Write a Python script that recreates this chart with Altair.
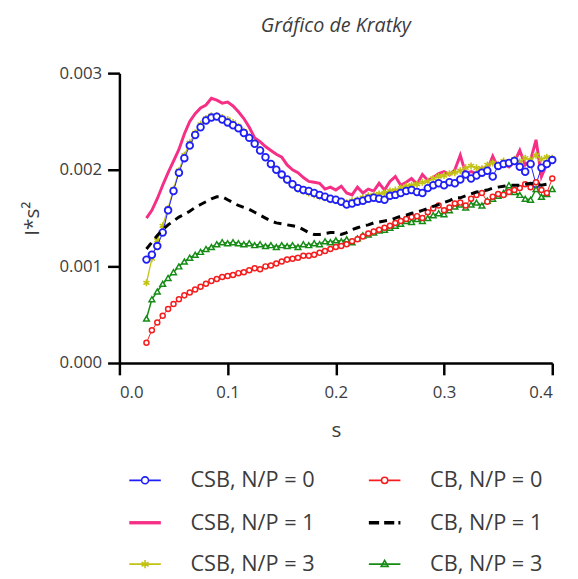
import altair as alt
import pandas as pd

# scattering vector s
S = [0.025, 0.030, 0.035, 0.040, 0.045, 0.050, 0.055, 0.060, 0.065, 0.070,
     0.075, 0.080, 0.085, 0.090, 0.095, 0.100, 0.105, 0.110, 0.115, 0.120,
     0.125, 0.130, 0.135, 0.140, 0.145, 0.150, 0.155, 0.160, 0.165, 0.170,
     0.175, 0.180, 0.185, 0.190, 0.195, 0.200, 0.205, 0.210, 0.215, 0.220,
     0.225, 0.230, 0.235, 0.240, 0.245, 0.250, 0.255, 0.260, 0.265, 0.270,
     0.275, 0.280, 0.285, 0.290, 0.295, 0.300, 0.305, 0.310, 0.315, 0.320,
     0.325, 0.330, 0.335, 0.340, 0.345, 0.350, 0.355, 0.360, 0.365, 0.370,
     0.375, 0.380, 0.385, 0.390, 0.395, 0.400]

# I*s^2 values, in units of 1e-3
CSB0 = [1.07, 1.12, 1.21, 1.35, 1.58, 1.78, 1.97, 2.12, 2.25, 2.36,
        2.44, 2.51, 2.54, 2.55, 2.52, 2.49, 2.46, 2.43, 2.38, 2.33,
        2.27, 2.20, 2.13, 2.06, 2.00, 1.95, 1.90, 1.85, 1.81, 1.79,
        1.78, 1.76, 1.74, 1.72, 1.70, 1.69, 1.67, 1.64, 1.65, 1.67,
        1.68, 1.70, 1.71, 1.70, 1.69, 1.73, 1.74, 1.76, 1.78, 1.79,
        1.77, 1.76, 1.81, 1.84, 1.86, 1.84, 1.87, 1.86, 1.90, 1.95,
        1.91, 1.94, 1.97, 1.99, 1.93, 2.04, 2.06, 2.07, 2.09, 2.03,
        1.98, 2.06, 1.85, 2.02, 2.06, 2.10]
CSB1 = [1.50, 1.58, 1.70, 1.84, 1.97, 2.09, 2.21, 2.37, 2.50, 2.58,
        2.64, 2.67, 2.74, 2.72, 2.69, 2.70, 2.66, 2.60, 2.53, 2.44,
        2.33, 2.29, 2.24, 2.20, 2.16, 2.13, 2.05, 2.00, 1.97, 1.92,
        1.88, 1.87, 1.86, 1.80, 1.82, 1.79, 1.83, 1.76, 1.74, 1.82,
        1.76, 1.80, 1.78, 1.86, 1.79, 1.88, 1.93, 1.84, 1.87, 1.91,
        1.85, 1.95, 1.89, 1.92, 1.96, 1.98, 1.95, 2.00, 2.15, 1.96,
        1.98, 1.96, 2.02, 2.00, 2.14, 2.02, 2.06, 2.03, 2.08, 2.20,
        2.05, 2.10, 2.31, 1.93, 2.06, 2.10]
CSB3 = [0.83, 1.08, 1.27, 1.42, 1.60, 1.80, 1.99, 2.15, 2.28, 2.38,
        2.47, 2.53, 2.56, 2.56, 2.54, 2.52, 2.49, 2.45, 2.40, 2.34,
        2.28, 2.21, 2.13, 2.06, 2.00, 1.94, 1.89, 1.84, 1.80, 1.78,
        1.76, 1.74, 1.72, 1.71, 1.69, 1.68, 1.67, 1.66, 1.68, 1.69,
        1.71, 1.73, 1.74, 1.75, 1.76, 1.78, 1.79, 1.81, 1.83, 1.84,
        1.85, 1.87, 1.88, 1.91, 1.93, 1.94, 1.96, 1.97, 1.99, 2.02,
        2.04, 2.02, 2.01, 2.05, 2.07, 2.05, 2.09, 2.07, 2.11, 2.08,
        2.12, 2.10, 2.15, 2.11, 2.13, 2.12]
CB0 = [0.21, 0.34, 0.42, 0.49, 0.56, 0.61, 0.66, 0.70, 0.73, 0.76,
       0.79, 0.82, 0.85, 0.87, 0.89, 0.90, 0.91, 0.93, 0.94, 0.96,
       0.98, 0.97, 1.00, 1.01, 1.03, 1.05, 1.07, 1.08, 1.09, 1.11,
       1.11, 1.12, 1.14, 1.16, 1.18, 1.20, 1.21, 1.23, 1.26, 1.28,
       1.31, 1.34, 1.36, 1.38, 1.40, 1.42, 1.45, 1.47, 1.49, 1.51,
       1.52, 1.50, 1.56, 1.60, 1.63, 1.58, 1.61, 1.65, 1.66, 1.63,
       1.70, 1.74, 1.76, 1.67, 1.72, 1.75, 1.74, 1.77, 1.79, 1.81,
       1.85, 1.82, 1.87, 1.79, 1.76, 1.91]
CB1 = [1.18, 1.25, 1.32, 1.38, 1.43, 1.47, 1.51, 1.54, 1.57, 1.61,
       1.64, 1.67, 1.70, 1.72, 1.72, 1.69, 1.66, 1.63, 1.61, 1.59,
       1.56, 1.53, 1.50, 1.47, 1.45, 1.44, 1.43, 1.42, 1.41, 1.38,
       1.35, 1.33, 1.33, 1.34, 1.35, 1.35, 1.33, 1.35, 1.38, 1.40,
       1.42, 1.43, 1.45, 1.46, 1.47, 1.48, 1.50, 1.52, 1.53, 1.55,
       1.56, 1.58, 1.60, 1.62, 1.64, 1.66, 1.68, 1.71, 1.71, 1.73,
       1.75, 1.77, 1.78, 1.79, 1.81, 1.82, 1.83, 1.84, 1.84, 1.84,
       1.85, 1.86, 1.85, 1.84, 1.85, 1.86]
CB3 = [0.46, 0.66, 0.74, 0.82, 0.88, 0.94, 1.00, 1.05, 1.09, 1.12,
       1.15, 1.18, 1.20, 1.23, 1.25, 1.24, 1.25, 1.24, 1.23, 1.24,
       1.22, 1.23, 1.21, 1.22, 1.20, 1.22, 1.21, 1.22, 1.20, 1.23,
       1.22, 1.24, 1.23, 1.26, 1.25, 1.27, 1.26, 1.28, 1.25, 1.29,
       1.32, 1.33, 1.35, 1.37, 1.38, 1.40, 1.42, 1.44, 1.47, 1.46,
       1.49, 1.47, 1.50, 1.53, 1.55, 1.54, 1.58, 1.62, 1.64, 1.61,
       1.64, 1.66, 1.63, 1.68, 1.70, 1.73, 1.76, 1.84, 1.77, 1.74,
       1.70, 1.69, 1.80, 1.72, 1.75, 1.80]

# legend order (filled column by column)
NAMES = ["CSB, N/P = 0", "CSB, N/P = 1", "CSB, N/P = 3",
         "CB, N/P = 0", "CB, N/P = 1", "CB, N/P = 3"]
SERIES = {"CSB, N/P = 0": CSB0, "CSB, N/P = 1": CSB1, "CSB, N/P = 3": CSB3,
          "CB, N/P = 0": CB0, "CB, N/P = 1": CB1, "CB, N/P = 3": CB3}

COLORS = {"CSB, N/P = 0": "#1f1ff5", "CB, N/P = 0": "#f51d1d",
          "CSB, N/P = 1": "#f52f86", "CB, N/P = 1": "#000000",
          "CSB, N/P = 3": "#c2c214", "CB, N/P = 3": "#168c16"}

ASTERISK = "M0,-1V1M-0.87,-0.5L0.87,0.5M-0.87,0.5L0.87,-0.5"

LEGEND_SHAPES = {
    "CSB, N/P = 0": "M-1,0H-0.22M0.22,0H1M-0.22,0A0.22,0.22,0,1,0,0.22,0A0.22,0.22,0,1,0,-0.22,0",
    "CSB, N/P = 1": "M-1,0H1",
    "CSB, N/P = 3": "M-1,0H1M0,-0.26V0.26M-0.22,-0.13L0.22,0.13M-0.22,0.13L0.22,-0.13",
    "CB, N/P = 0": "M-1,0H-0.2M0.2,0H1M-0.2,0A0.2,0.2,0,1,0,0.2,0A0.2,0.2,0,1,0,-0.2,0",
    "CB, N/P = 1": "M-1,0H-0.35M-0.03,0H0.61M0.87,0H1",
    "CB, N/P = 3": "M-1,0H1M0,-0.24L0.22,0.14H-0.22Z",
}
LEGEND_WIDTHS = {"CSB, N/P = 0": 1.6, "CSB, N/P = 1": 3.4, "CSB, N/P = 3": 1.6,
                 "CB, N/P = 0": 1.6, "CB, N/P = 1": 3.4, "CB, N/P = 3": 1.6}

rows = []
for name in NAMES:
    for s, v in zip(S, SERIES[name]):
        rows.append({"s": s, "I": v * 1e-3, "series": name})
df = pd.DataFrame(rows)

x = alt.X("s:Q", scale=alt.Scale(domain=[0, 0.4], nice=False, zero=False),
          axis=alt.Axis(values=[0, 0.1, 0.2, 0.3, 0.4], format=".1f", title="s"))
y = alt.Y("I:Q", scale=alt.Scale(domain=[0, 0.003], nice=False),
          axis=alt.Axis(values=[0, 0.001, 0.002, 0.003], format=".3f", title="I*s²"))

base = alt.Chart(df)


def line(name, width, dash=None):
    kw = dict(color=COLORS[name], strokeWidth=width)
    if dash:
        kw["strokeDash"] = dash
    return base.transform_filter(alt.datum.series == name).mark_line(**kw).encode(x=x, y=y)


def pts(name, shape, size, width=1.4):
    return base.transform_filter(alt.datum.series == name).mark_point(
        shape=shape, size=size, filled=True, fill="white", stroke=COLORS[name],
        strokeWidth=width, opacity=1).encode(x=x, y=y)


def stars(name, size):
    return base.transform_filter(alt.datum.series == name).mark_point(
        shape=ASTERISK, size=size, filled=False, stroke=COLORS[name],
        strokeWidth=1.6, opacity=1).encode(x=x, y=y)


leg = alt.Legend(title=None, orient="none", legendX=8, legendY=396, columns=2,
                 symbolSize=1024, labelFont="Open Sans", labelFontSize=22,
                 labelColor="#3c3c3c", labelOffset=28, rowPadding=14,
                 columnPadding=48, padding=0)

legend_layer = base.transform_filter("datum.s < 0").mark_point(filled=False, opacity=1).encode(
    x=x, y=y,
    color=alt.Color("series:N", scale=alt.Scale(domain=NAMES, range=[COLORS[n] for n in NAMES]), legend=leg),
    shape=alt.Shape("series:N", scale=alt.Scale(domain=NAMES, range=[LEGEND_SHAPES[n] for n in NAMES]), legend=leg),
    strokeWidth=alt.StrokeWidth("series:N", scale=alt.Scale(type="ordinal", domain=NAMES,
                                range=[LEGEND_WIDTHS[n] for n in NAMES]), legend=leg),
)

chart = alt.layer(
    line("CSB, N/P = 1", 3.0),
    line("CSB, N/P = 3", 1.3),
    stars("CSB, N/P = 3", 50),
    line("CSB, N/P = 0", 1.0),
    pts("CSB, N/P = 0", "circle", 46, 1.8),
    line("CB, N/P = 3", 1.5),
    pts("CB, N/P = 3", "triangle-up", 34, 1.5),
    line("CB, N/P = 0", 1.0),
    pts("CB, N/P = 0", "circle", 26, 1.5),
    line("CB, N/P = 1", 3, [8, 6]),
    legend_layer,
).properties(
    width=439, height=294,
    autosize=alt.AutoSizeParams(type="none"),
    padding={"left": 113, "top": 62, "right": 18, "bottom": 215},
    title=alt.TitleParams("Gráfico de Kratky", anchor="middle", offset=29),
).configure_axis(
    grid=False, domainColor="black", domainWidth=2.5, tickColor="black",
    tickWidth=2.5, tickSize=12, labelFont="Open Sans", labelFontSize=17,
    labelColor="#3c3c3c", titleFont="Open Sans", titleFontSize=21,
    titleColor="#3c3c3c", titleFontWeight="normal",
).configure_axisX(
    labelPadding=10, titlePadding=20,
).configure_axisY(
    labelPadding=6, titlePadding=17,
).configure_title(
    font="Open Sans", fontStyle="italic", fontSize=20, fontWeight="normal",
    color="#3c3c3c",
).configure_view(strokeWidth=0)

chart.save("out.html", embed_options={"renderer": "svg", "actions": False})
